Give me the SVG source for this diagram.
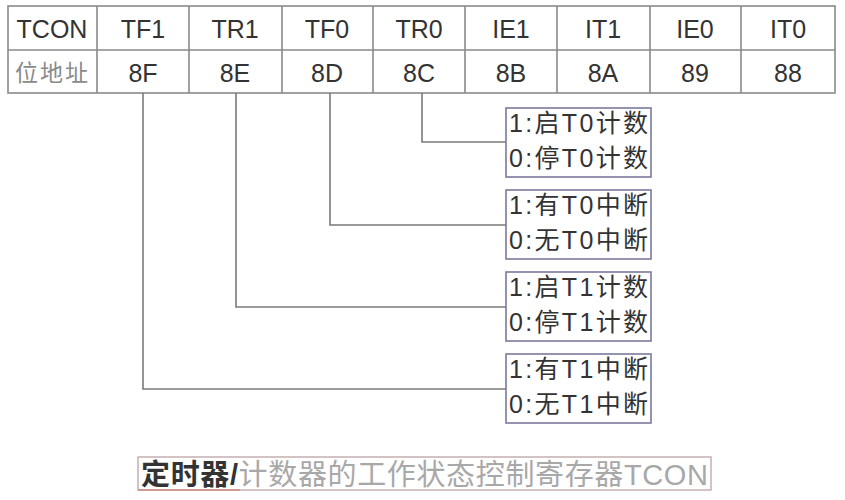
<svg xmlns="http://www.w3.org/2000/svg" width="845" height="500" viewBox="0 0 845 500">
<style>
.grid{fill:none;stroke:#8a8a8a;stroke-width:1.6}
.th{font-family:"Liberation Sans","Noto Sans CJK SC",sans-serif;font-size:25px;fill:#333;text-anchor:middle}
.addr{font-family:"Noto Sans CJK SC",sans-serif;font-size:23px;fill:#8a8a8a}
.box{fill:#fff;stroke:#7a7a9e;stroke-width:1.6}
.bt{font-family:"Liberation Sans","Noto Sans CJK SC",sans-serif;font-size:25px;fill:#333}
.conn{fill:none;stroke:#7a7a7a;stroke-width:1.6}
.cap{font-family:"Liberation Sans","Noto Sans CJK SC",sans-serif;font-size:29px}
</style>
<rect width="845" height="500" fill="#fff"/>
<g id="table">
<rect class="grid" x="8" y="6" width="827" height="87"/>
<line class="grid" x1="8" y1="50" x2="835" y2="50"/>
<path class="grid" d="M97 6V93M189 6V93M282 6V93M373 6V93M465 6V93M557 6V93M650 6V93M741 6V93"/>
<text class="th" x="52" y="38">TCON</text>
<text class="th" x="143" y="38">TF1</text>
<text class="th" x="235" y="38">TR1</text>
<text class="th" x="327" y="38">TF0</text>
<text class="th" x="419" y="38">TR0</text>
<text class="th" x="511" y="38">IE1</text>
<text class="th" x="603" y="38">IT1</text>
<text class="th" x="695" y="38">IE0</text>
<text class="th" x="788" y="38">IT0</text>
<text class="addr" x="15" y="81" textLength="73" lengthAdjust="spacing">位地址</text>
<text class="th" x="143" y="82">8F</text>
<text class="th" x="235" y="82">8E</text>
<text class="th" x="327" y="82">8D</text>
<text class="th" x="419" y="82">8C</text>
<text class="th" x="511" y="82">8B</text>
<text class="th" x="603" y="82">8A</text>
<text class="th" x="695" y="82">89</text>
<text class="th" x="788" y="82">88</text>
</g>
<g id="connectors">
<path class="conn" d="M422 93V142H506"/>
<path class="conn" d="M330 93V225H506"/>
<path class="conn" d="M236 93V307H506"/>
<path class="conn" d="M143 93V389H506"/>
</g>
<g id="box-tr0">
<rect class="box" x="506" y="108" width="145" height="69"/>
<text class="bt" x="509" y="132" textLength="139" lengthAdjust="spacing">1:启T0计数</text>
<text class="bt" x="509" y="167" textLength="139" lengthAdjust="spacing">0:停T0计数</text>
</g>
<g id="box-tf0">
<rect class="box" x="506" y="190" width="145" height="69"/>
<text class="bt" x="509" y="214" textLength="139" lengthAdjust="spacing">1:有T0中断</text>
<text class="bt" x="509" y="249" textLength="139" lengthAdjust="spacing">0:无T0中断</text>
</g>
<g id="box-tr1">
<rect class="box" x="506" y="272" width="145" height="69"/>
<text class="bt" x="509" y="296" textLength="139" lengthAdjust="spacing">1:启T1计数</text>
<text class="bt" x="509" y="331" textLength="139" lengthAdjust="spacing">0:停T1计数</text>
</g>
<g id="box-tf1">
<rect class="box" x="506" y="354" width="145" height="69"/>
<text class="bt" x="509" y="378" textLength="139" lengthAdjust="spacing">1:有T1中断</text>
<text class="bt" x="509" y="413" textLength="139" lengthAdjust="spacing">0:无T1中断</text>
</g>
<g id="caption">
<rect x="138" y="457" width="573" height="33" fill="#fff" stroke="#c8b4b6" stroke-width="1.6"/>
<line x1="138" y1="490" x2="240" y2="490" stroke="#d08888" stroke-width="1.6"/>
<text class="cap" x="141" y="485" textLength="567" lengthAdjust="spacing"><tspan fill="#333" font-weight="bold">定时器/</tspan><tspan fill="#a8a8a8">计数器的工作状态控制寄存器TCON</tspan></text>
</g>
</svg>
